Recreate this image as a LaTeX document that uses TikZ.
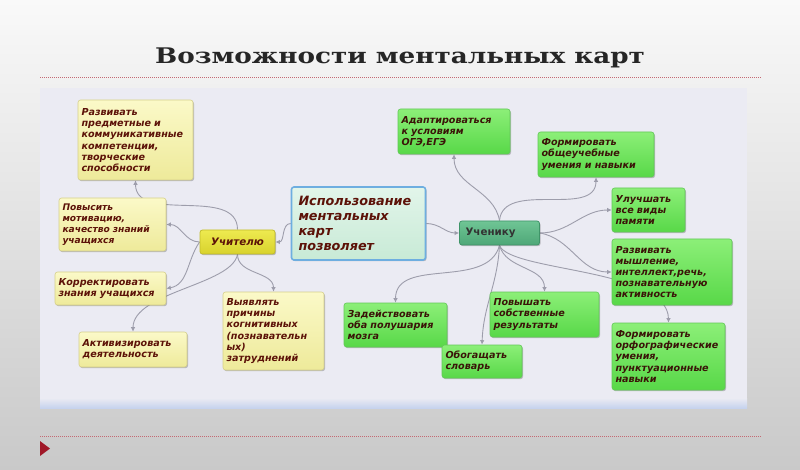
\documentclass[tikz,border=0pt]{standalone}
\usepackage{fontspec}
\usetikzlibrary{arrows.meta,shadows}
\newfontfamily\mmsans{DejaVu Sans}
\newfontfamily\mmserif{DejaVu Serif}[FakeStretch=1.22]
\definecolor{bgtop}{HTML}{F9F9F9}
\definecolor{bgbot}{HTML}{C9C9C9}
\definecolor{panelc}{HTML}{EBEBF3}
\definecolor{panelb}{HTML}{C6D3EE}
\definecolor{ytop}{HTML}{FBF9C8}
\definecolor{ybot}{HTML}{EEEA9A}
\definecolor{ydraw}{HTML}{D6D08A}
\definecolor{ttop}{HTML}{EEEA50}
\definecolor{tbot}{HTML}{D8D22C}
\definecolor{tdraw}{HTML}{C2BC2A}
\definecolor{gtop}{HTML}{8CEF78}
\definecolor{gbot}{HTML}{58D848}
\definecolor{gdraw}{HTML}{62C857}
\definecolor{utop}{HTML}{6FC595}
\definecolor{ubot}{HTML}{4EA777}
\definecolor{udraw}{HTML}{3F9468}
\definecolor{ctop}{HTML}{E2F5EA}
\definecolor{cbot}{HTML}{C8EAD6}
\definecolor{cdraw}{HTML}{6EAEE0}
\definecolor{ytext}{HTML}{5C1208}
\definecolor{gtext}{HTML}{3A1408}
\definecolor{linkc}{HTML}{9D9DAB}
\definecolor{dotred}{HTML}{C46A74}
\definecolor{trired}{HTML}{A01828}
\pgfdeclarelayer{bgl}
\pgfdeclarelayer{edl}
\pgfsetlayers{bgl,edl,main}
\newcommand\mmbox[7]{%
  \pgfmathsetmacro\mmW{#4-#2}%
  \pgfmathsetmacro\mmH{#5-#3}%
  \pgfmathsetmacro\mmTW{#4-#2-7}%
  \node[#6, minimum width=\mmW pt, minimum height=\mmH pt, text width=\mmTW pt] (#1) at ({(#2+#4)/2},{(#3+#5)/2}) {#7};}
\tikzset{
  box/.style={rounded corners=2.5pt, inner xsep=3.5pt, inner ysep=1pt, align=left,
    font=\mmsans\bfseries\itshape\fontsize{9.6}{11.2}\selectfont,
    drop shadow={shadow xshift=1pt, shadow yshift=-1.2pt, opacity=0.22, fill=black}},
  smalltext/.style={font=\mmsans\bfseries\itshape\fontsize{9.1}{11}\selectfont},
  ybox/.style={box, top color=ytop, bottom color=ybot, draw=ydraw, line width=0.6pt, text=ytext},
  gbox/.style={box, top color=gtop, bottom color=gbot, draw=gdraw, line width=0.6pt, text=gtext},
  tbox/.style={box, top color=ttop, bottom color=tbot, draw=tdraw, line width=0.8pt, text=ytext, align=center,
    font=\mmsans\bfseries\itshape\fontsize{10.3}{12}\selectfont},
  ubox/.style={box, top color=utop, bottom color=ubot, draw=udraw, line width=0.8pt, text=black!80,
    font=\mmsans\bfseries\fontsize{10.3}{12}\selectfont, inner xsep=6pt},
  cbox/.style={box, top color=ctop, bottom color=cbot, draw=cdraw, line width=1.6pt, text=ytext,
    inner xsep=7pt, font=\mmsans\bfseries\itshape\fontsize{12.8}{15}\selectfont},
  link/.style={draw=linkc, line width=0.9pt, -{Latex[length=4.5pt,width=4.5pt]}},
  dotline/.style={draw=dotred, line width=1pt, dash pattern=on 1pt off 1pt},
}
\begin{document}
\begin{tikzpicture}[x=1pt,y=-1pt]
\begin{pgfonlayer}{bgl}
  \fill[top color=bgtop, bottom color=bgbot] (0,0) rectangle (800,470);
  \fill[panelc] (40,88) rectangle (747,408);
  \fill[top color=panelc, bottom color=panelb] (40,398) rectangle (747,408);
\end{pgfonlayer}
\useasboundingbox (0,0) rectangle (800,470);
\node[font=\mmserif\bfseries\fontsize{21.5}{24}\selectfont, text=black!85] (title) at (400,58) {Возможности ментальных карт};
\coordinate (d1a) at (40,78); \coordinate (d1b) at (762,78);
\coordinate (d2a) at (40,436); \coordinate (d2b) at (762,436);
\draw[dotline] (d1a) -- (d1b);
\draw[dotline] (d2a) -- (d2b);
\fill[trired] (40,441) -- (50,448.5) -- (40,456) -- cycle;

% teacher side
\mmbox{n1}{78}{100}{193}{180}{ybox}{Развивать\\предметные и\\коммуникативные\\компетенции,\\творческие\\способности}
\mmbox{n2}{59}{198}{166}{251}{ybox,smalltext}{Повысить\\мотивацию,\\качество знаний\\учащихся}
\mmbox{t}{200}{230}{275}{254}{tbox}{Учителю}
\mmbox{n4}{55}{272}{166}{305}{ybox}{Корректировать\\знания учащихся}
\mmbox{n5}{79}{332}{187}{367}{ybox}{Активизировать\\деятельность}
\mmbox{n6}{223}{292}{324}{370}{ybox}{Выявлять\\причины\\когнитивных\\(познавательн\\ых)\\затруднений}
% center
\mmbox{c}{295}{187}{422}{260}{cbox}{Использование\\ментальных\\карт\\позволяет}
% pupil side
\mmbox{u}{462}{221}{537}{245}{ubox}{Ученику}
\mmbox{n9}{398}{109}{510}{154}{gbox}{Адаптироваться\\к условиям\\ОГЭ,ЕГЭ}
\mmbox{n10}{538}{132}{654}{177}{gbox}{Формировать\\общеучебные\\умения и навыки}
\mmbox{n11}{612}{188}{685}{232}{gbox}{Улучшать\\все виды\\памяти}
\mmbox{n12}{612}{239}{732}{305}{gbox}{Развивать\\мышление,\\интеллект,речь,\\познавательную\\активность}
\mmbox{n13}{612}{323}{725}{390}{gbox}{Формировать\\орфографические\\умения,\\пунктуационные\\навыки}
\mmbox{n14}{490}{292}{599}{337}{gbox}{Повышать\\собственные\\результаты}
\mmbox{n15}{344}{303}{447}{347}{gbox}{Задействовать\\оба полушария\\мозга}
\mmbox{n16}{442}{345}{522}{378}{gbox}{Обогащать\\словарь}

\begin{pgfonlayer}{edl}
  \draw[link] (c.west) to[out=180,in=0] (t.east);
  \draw[link] (c.east) to[out=0,in=180] (u.west);
  \draw[link] (t.north) to[out=90,in=-90] (n1.south);
  \draw[link] (t.west) to[out=180,in=0] (n2.east);
  \draw[link] (t.west) to[out=235,in=10] (n4.east);
  \draw[link] (t.south) .. controls (232,285) and (133,292) .. (n5.north);
  \draw[link] (t.south) to[out=-90,in=90] (n6.north);
  \draw[link] (u.north) to[out=100,in=-90] (n9.south);
  \draw[link] (u.north) to[out=85,in=-90] (n10.south);
  \draw[link] (u.east) to[out=0,in=180] (n11.west);
  \draw[link] (u.east) to[out=-10,in=180] (n12.west);
  \draw[link] (u.south) .. controls (510,272) and (668,268) .. (n13.north);
  \draw[link] (u.south) to[out=-75,in=90] (n14.north);
  \draw[link] (u.south) to[out=-105,in=90] (n15.north);
  \draw[link] (u.south) to[out=-93,in=88] (n16.north);
\end{pgfonlayer}
\end{tikzpicture}
\end{document}
